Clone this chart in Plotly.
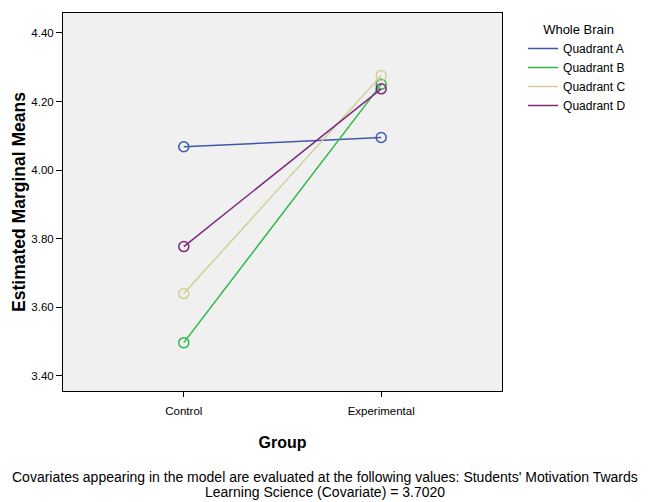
import plotly.graph_objects as go

groups = ["Control", "Experimental"]
group_pos = [0, 1]
series_names = ["Quadrant A", "Quadrant B", "Quadrant C", "Quadrant D"]
quadrant_a = [4.068, 4.095]
quadrant_b = [3.497, 4.250]
quadrant_c = [3.640, 4.276]
quadrant_d = [3.777, 4.237]
colors = ["#3E58AC", "#2EB848", "#D3CE97", "#7C287D"]
y_ticks = [3.40, 3.60, 3.80, 4.00, 4.20, 4.40]
y_tick_labels = ["3.40", "3.60", "3.80", "4.00", "4.20", "4.40"]

# page body has an 8px margin, so the figure is slightly smaller
W, H = 641, 494
L, R, T, B = 55, 147, 5, 111
PW, PH = W - L - R, H - T - B
font = "Liberation Sans, Arial, sans-serif"

fig = go.Figure()
for name, vals, col in zip(series_names, [quadrant_a, quadrant_b, quadrant_c, quadrant_d], colors):
    fig.add_trace(go.Scatter(
        x=group_pos, y=vals, mode="lines+markers", name=name, showlegend=False,
        line=dict(color=col, width=1.5),
        marker=dict(symbol="circle-open", size=10, color=col, line=dict(width=1.5, color=col)),
    ))
for name, col in zip(series_names, colors):
    fig.add_trace(go.Scatter(
        x=[None], y=[None], mode="lines", name=name, showlegend=True,
        line=dict(color=col, width=1.5),
    ))

fig.update_layout(
    width=W, height=H,
    margin=dict(l=L, r=R, t=T, b=B, autoexpand=False),
    paper_bgcolor="white", plot_bgcolor="#F0F0F0",
    font=dict(family=font, size=11, color="black"),
    legend=dict(
        title=dict(text="&nbsp;&nbsp;&nbsp;&nbsp;&nbsp;Whole Brain", font=dict(size=13, family=font)),
        x=1.048, y=0.989, xanchor="left", yanchor="top",
        font=dict(size=12, family=font), itemwidth=30,
        tracegroupgap=0, bgcolor="rgba(0,0,0,0)",
    ),
    xaxis=dict(
        range=[-0.612, 1.612], tickvals=group_pos, ticktext=groups,
        showgrid=False, zeroline=False, showline=True, mirror=True,
        linecolor="black", linewidth=1, ticks="outside", ticklen=5, tickcolor="black",
        tickfont=dict(size=11.5, family=font), ticklabelstandoff=4,
        title=dict(text="<b>Group</b>", font=dict(size=16, family=font), standoff=21),
    ),
    yaxis=dict(
        range=[3.356, 4.458], tickvals=y_ticks, ticktext=y_tick_labels,
        showgrid=False, zeroline=False, showline=True, mirror=True,
        linecolor="black", linewidth=1, ticks="outside", ticklen=6, tickcolor="black",
        tickfont=dict(size=11.5, family=font),
        title=dict(text="<b>Estimated Marginal Means</b>", font=dict(size=17.5, family=font), standoff=1),
    ),
)

foot_x = (317 - L) / PW
fig.add_annotation(
    text="Covariates appearing in the model are evaluated at the following values: Students' Motivation Twards",
    xref="paper", yref="paper", x=foot_x, y=-(469 - (H - B)) / PH,
    xanchor="center", yanchor="middle", showarrow=False,
    font=dict(size=14, family=font, color="black"),
)
fig.add_annotation(
    text="Learning Science (Covariate) = 3.7020",
    xref="paper", yref="paper", x=foot_x, y=-(484 - (H - B)) / PH,
    xanchor="center", yanchor="middle", showarrow=False,
    font=dict(size=14, family=font, color="black"),
)

fig.write_html("out.html")
